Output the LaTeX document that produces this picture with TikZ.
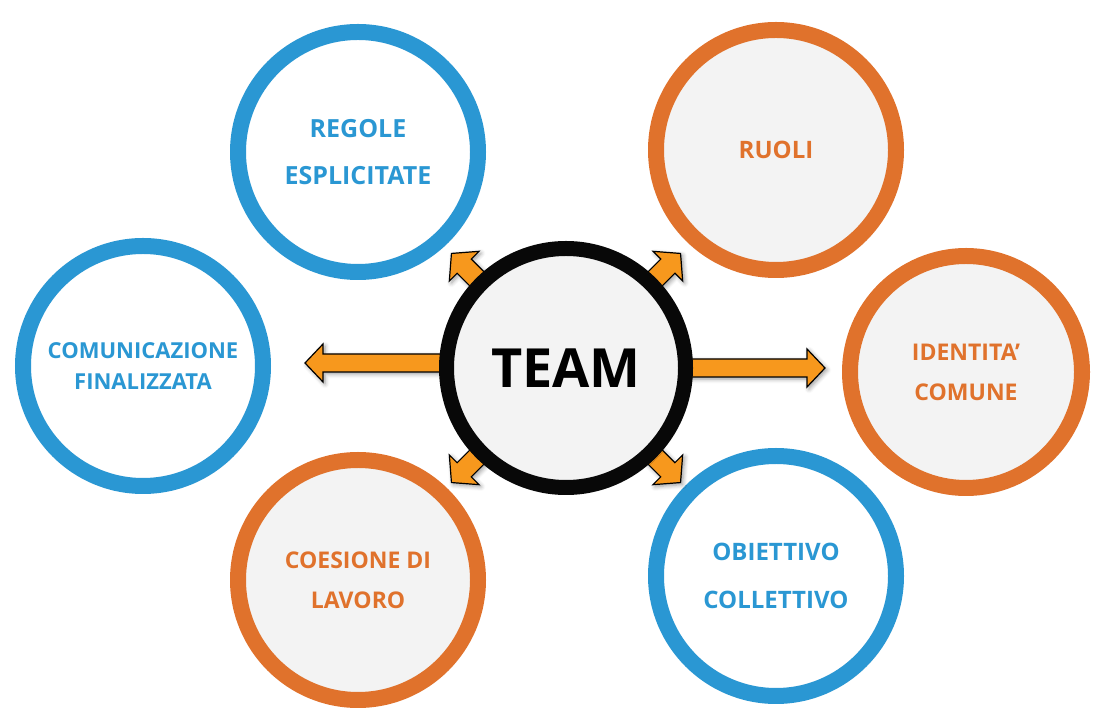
\documentclass[tikz,border=0pt]{standalone}
\usepackage{fontspec}
\setmainfont{Open Sans}
\usetikzlibrary{shadows.blur}
\definecolor{cblue}{HTML}{2A97D3}
\definecolor{corange}{HTML}{E0722C}
\definecolor{carrow}{HTML}{F7981D}
\definecolor{cgray}{HTML}{F3F3F3}
\tikzset{
  ring/.style 2 args={circle,inner sep=0pt,minimum size=120pt,line width=8pt,align=center,
    font=\bfseries\fontsize{#1}{#2}\selectfont,blur shadow={shadow blur steps=8,shadow xshift=1.5pt,shadow yshift=-1.5pt,shadow scale=1.0}},
  bring/.style 2 args={ring={#1}{#2},draw=cblue,fill=white,text=cblue},
  oring/.style 2 args={ring={#1}{#2},draw=corange,fill=cgray,text=corange},
  arr/.style={draw=black,line width=0.6pt,fill=carrow,line join=miter},
}
\newcommand\mybarrow[6]{% center, angle, r0, r1, shaft half, head half
  \begin{scope}[shift={#1},rotate=#2]
  \draw[arr,blur shadow={shadow blur steps=5,shadow xshift=1pt,shadow yshift=-1pt}] (#3,-#5)--({#4-18},-#5)--({#4-18},-#6)--(#4,0)--({#4-18},#6)--({#4-18},#5)--(#3,#5)--cycle;
  \end{scope}}
\begin{document}
\begin{tikzpicture}[x=0.5pt,y=-0.5pt]
\useasboundingbox (0,0) rectangle (1120,726);
\coordinate (c) at (566,368);
\node[bring={12.5}{23.5pt}] (regole) at (358,152) {REGOLE\\ESPLICITATE};
\node[oring={12}{15pt}] (ruoli) at (776,150) {RUOLI};
\node[bring={11}{15.5pt}] (comun) at (143,366) {COMUNICAZIONE\\FINALIZZATA};
\node[oring={11.5}{20pt},minimum size=116pt] (ident) at (966,372) {IDENTITA'\\COMUNE};
\node[oring={11.5}{20pt}] (coes) at (358,580) {COESIONE DI\\LAVORO};
\node[bring={12}{24pt}] (obiet) at (776,576) {OBIETTIVO\\COLLETTIVO};
\mybarrow{(566,363)}{180}{100}{261}{9}{19}
\mybarrow{(566,368)}{0}{100}{259}{9}{19}
\mybarrow{(c)}{225}{100}{162}{10}{21}
\mybarrow{(c)}{315}{100}{162}{10}{21}
\mybarrow{(c)}{135}{100}{162}{10}{21}
\mybarrow{(c)}{45}{100}{162}{10}{21}
\node[circle,inner sep=0pt,minimum size=119.5pt,line width=7.5pt,draw=black!97,fill=cgray,
  font=\bfseries\fontsize{27}{30}\selectfont,blur shadow={shadow blur steps=8,shadow xshift=1.5pt,shadow yshift=-1.5pt}] (team) at (c) {TEAM};
\end{tikzpicture}
\end{document}
